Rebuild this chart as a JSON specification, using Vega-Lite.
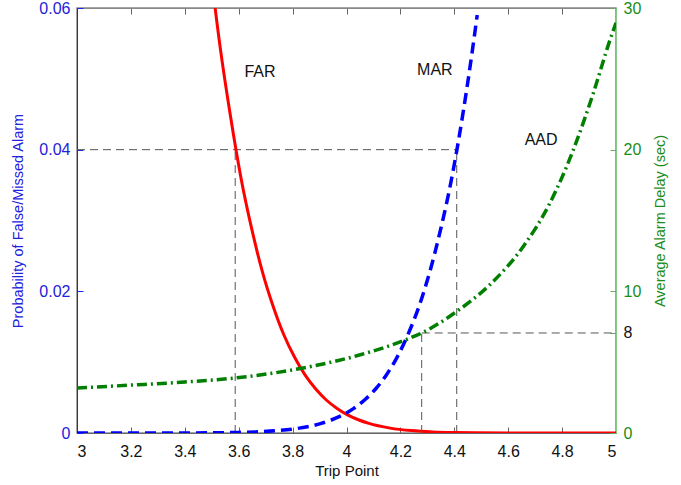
{
  "$schema": "https://vega.github.io/schema/vega-lite/v6.json",
  "width": 539,
  "height": 425,
  "autosize": "none",
  "padding": {"left": 77, "top": 8, "right": 65, "bottom": 52},
  "background": "white",
  "config": {
    "font": "Liberation Sans",
    "view": {"stroke": "#888888", "strokeWidth": 1.5},
    "axis": {"grid": false, "labelFont": "Liberation Sans", "titleFont": "Liberation Sans", "labelFontSize": 16, "titleFontSize": 14.5, "titleFontWeight": "normal", "tickSize": -6, "tickWidth": 1}
  },
  "datasets": {
    "prob": [
      {"x": 3.491, "p": 0.0668, "s": "FAR"},
      {"x": 3.530, "p": 0.0548, "s": "FAR"},
      {"x": 3.570, "p": 0.0446, "s": "FAR"},
      {"x": 3.609, "p": 0.0359, "s": "FAR"},
      {"x": 3.649, "p": 0.0287, "s": "FAR"},
      {"x": 3.688, "p": 0.02275, "s": "FAR"},
      {"x": 3.728, "p": 0.01786, "s": "FAR"},
      {"x": 3.767, "p": 0.0139, "s": "FAR"},
      {"x": 3.807, "p": 0.01072, "s": "FAR"},
      {"x": 3.846, "p": 0.0082, "s": "FAR"},
      {"x": 3.886, "p": 0.00621, "s": "FAR"},
      {"x": 3.925, "p": 0.00466, "s": "FAR"},
      {"x": 3.965, "p": 0.00347, "s": "FAR"},
      {"x": 4.004, "p": 0.00256, "s": "FAR"},
      {"x": 4.044, "p": 0.00187, "s": "FAR"},
      {"x": 4.083, "p": 0.00135, "s": "FAR"},
      {"x": 4.162, "p": 0.00069, "s": "FAR"},
      {"x": 4.241, "p": 0.000337, "s": "FAR"},
      {"x": 4.320, "p": 0.000159, "s": "FAR"},
      {"x": 4.399, "p": 0.0000723, "s": "FAR"},
      {"x": 4.478, "p": 0.0000317, "s": "FAR"},
      {"x": 4.676, "p": 0.0000034, "s": "FAR"},
      {"x": 5.0, "p": 0, "s": "FAR"},
      {"x": 3.0, "p": 0, "s": "MAR"},
      {"x": 3.302, "p": 0.0000034, "s": "MAR"},
      {"x": 3.503, "p": 0.0000317, "s": "MAR"},
      {"x": 3.584, "p": 0.0000723, "s": "MAR"},
      {"x": 3.664, "p": 0.000159, "s": "MAR"},
      {"x": 3.745, "p": 0.000337, "s": "MAR"},
      {"x": 3.825, "p": 0.00069, "s": "MAR"},
      {"x": 3.906, "p": 0.00135, "s": "MAR"},
      {"x": 3.946, "p": 0.00187, "s": "MAR"},
      {"x": 3.987, "p": 0.00256, "s": "MAR"},
      {"x": 4.027, "p": 0.00347, "s": "MAR"},
      {"x": 4.067, "p": 0.00466, "s": "MAR"},
      {"x": 4.108, "p": 0.00621, "s": "MAR"},
      {"x": 4.148, "p": 0.0082, "s": "MAR"},
      {"x": 4.188, "p": 0.01072, "s": "MAR"},
      {"x": 4.228, "p": 0.0139, "s": "MAR"},
      {"x": 4.269, "p": 0.01786, "s": "MAR"},
      {"x": 4.309, "p": 0.02275, "s": "MAR"},
      {"x": 4.349, "p": 0.0287, "s": "MAR"},
      {"x": 4.390, "p": 0.0359, "s": "MAR"},
      {"x": 4.430, "p": 0.0446, "s": "MAR"},
      {"x": 4.470, "p": 0.0548, "s": "MAR"},
      {"x": 4.485, "p": 0.059, "s": "MAR"}
    ],
    "delay": [
      {"x": 3.0, "d": 3.18},
      {"x": 3.2, "d": 3.38},
      {"x": 3.4, "d": 3.6},
      {"x": 3.586, "d": 3.88},
      {"x": 3.839, "d": 4.59},
      {"x": 4.075, "d": 5.65},
      {"x": 4.221, "d": 6.59},
      {"x": 4.279, "d": 7.06},
      {"x": 4.409, "d": 8.58},
      {"x": 4.532, "d": 10.47},
      {"x": 4.656, "d": 13.17},
      {"x": 4.755, "d": 16.24},
      {"x": 4.842, "d": 20.0},
      {"x": 4.916, "d": 24.0},
      {"x": 4.978, "d": 27.76},
      {"x": 5.0, "d": 28.96}
    ],
    "guidesLeft": [
      {"x1": 3.0, "x2": 4.409, "y1": 0.04, "y2": 0.04},
      {"x1": 3.587, "x2": 3.587, "y1": 0, "y2": 0.04},
      {"x1": 4.409, "x2": 4.409, "y1": 0, "y2": 0.04}
    ],
    "guidesRight": [
      {"x1": 4.279, "x2": 4.279, "y1": 0, "y2": 7.06},
      {"x1": 4.279, "x2": 5.0, "y1": 7.06, "y2": 7.06}
    ],
    "labels": [
      {"x": 3.679, "p": 0.0509, "t": "FAR"},
      {"x": 4.328, "p": 0.0513, "t": "MAR"},
      {"x": 4.722, "p": 0.0413, "t": "AAD"}
    ]
  },
  "layer": [
    {
      "layer": [
        {
          "data": {"name": "guidesLeft"},
          "mark": {"type": "rule", "color": "#555555", "strokeWidth": 1, "strokeDash": [8, 5]},
          "encoding": {
            "x": {"field": "x1", "type": "quantitative", "scale": {"domain": [3, 5], "nice": false}, "axis": {"orient": "bottom", "values": [3, 3.2, 3.4, 3.6, 3.8, 4, 4.2, 4.4, 4.6, 4.8, 5], "format": "~g", "title": "Trip Point", "titleFontSize": 15, "domainColor": "#666666", "tickColor": "#666666", "labelColor": "#111111", "titleColor": "#111111", "labelPadding": 16, "titlePadding": 4}},
            "x2": {"field": "x2"},
            "y": {"field": "y1", "type": "quantitative", "scale": {"domain": [0, 0.06], "nice": false}, "axis": {"orient": "left", "values": [0, 0.02, 0.04, 0.06], "format": "~g", "title": "Probability of False/Missed Alarm", "domainColor": "#2222ee", "tickColor": "#2222ee", "labelColor": "#2222dd", "titleColor": "#2222dd", "labelPadding": 13, "titlePadding": 13}},
            "y2": {"field": "y2"}
          }
        },
        {
          "data": {"name": "prob"},
          "transform": [{"filter": "datum.s == 'FAR'"}],
          "mark": {"type": "line", "color": "#ff0000", "strokeWidth": 3, "clip": true, "interpolate": "monotone"},
          "encoding": {
            "x": {"field": "x", "type": "quantitative"},
            "y": {"field": "p", "type": "quantitative"}
          }
        },
        {
          "data": {"name": "prob"},
          "transform": [{"filter": "datum.s == 'MAR'"}],
          "mark": {"type": "line", "color": "#0000ff", "strokeWidth": 3.5, "strokeDash": [11, 6], "clip": true, "interpolate": "monotone"},
          "encoding": {
            "x": {"field": "x", "type": "quantitative"},
            "y": {"field": "p", "type": "quantitative"}
          }
        },
        {
          "data": {"name": "labels"},
          "mark": {"type": "text", "fontSize": 16, "color": "#111111", "font": "Liberation Sans"},
          "encoding": {
            "x": {"field": "x", "type": "quantitative"},
            "y": {"field": "p", "type": "quantitative"},
            "text": {"field": "t"}
          }
        }
      ]
    },
    {
      "layer": [
        {
          "data": {"name": "guidesRight"},
          "mark": {"type": "rule", "color": "#555555", "strokeWidth": 1, "strokeDash": [8, 5]},
          "encoding": {
            "x": {"field": "x1", "type": "quantitative", "axis": {"orient": "top", "values": [3, 3.2, 3.4, 3.6, 3.8, 4, 4.2, 4.4, 4.6, 4.8, 5], "labels": false, "title": null, "domainColor": "#888888", "tickColor": "#666666"}},
            "x2": {"field": "x2"},
            "y": {"field": "y1", "type": "quantitative", "scale": {"domain": [0, 30], "nice": false}, "axis": {"orient": "right", "values": [0, 7.06, 10, 20, 30], "labelExpr": "datum.value == 7.06 ? '8' : datum.label", "labelColor": {"condition": {"test": "datum.value == 7.06", "value": "#111111"}, "value": "#1a8c1a"}, "title": "Average Alarm Delay (sec)", "titleAngle": 270, "domainColor": "#88c888", "tickColor": "#66aa66", "titleColor": "#1a8c1a", "labelPadding": 13, "titlePadding": 27}},
            "y2": {"field": "y2"}
          }
        },
        {
          "data": {"name": "delay"},
          "mark": {"type": "line", "color": "#007f00", "strokeWidth": 3.5, "strokeDash": [10, 4, 2, 4], "clip": true, "interpolate": "monotone"},
          "encoding": {
            "x": {"field": "x", "type": "quantitative"},
            "y": {"field": "d", "type": "quantitative"}
          }
        }
      ]
    }
  ],
  "resolve": {"scale": {"y": "independent"}, "axis": {"x": "independent"}}
}
